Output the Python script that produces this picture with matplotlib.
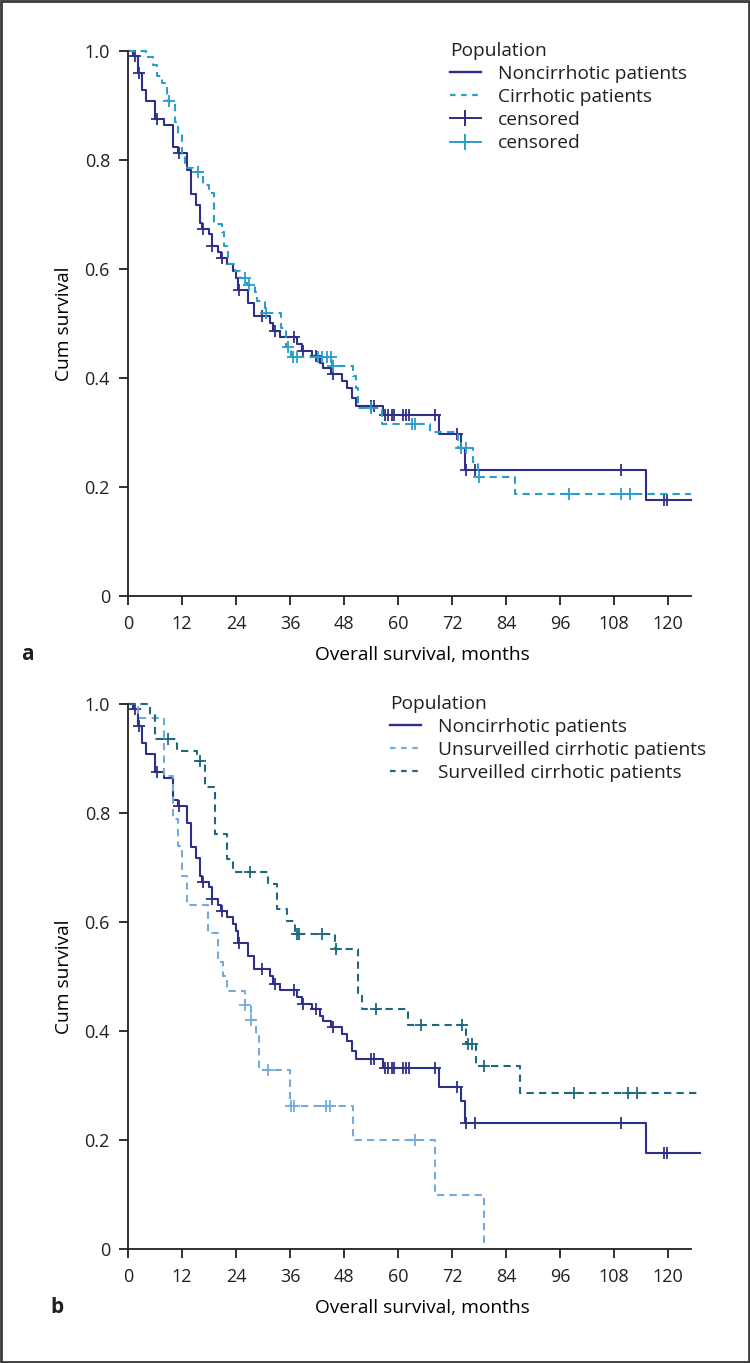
import numpy as np
import matplotlib
matplotlib.use('Agg')
import matplotlib.pyplot as plt
from matplotlib.lines import Line2D
from matplotlib.patches import Rectangle

plt.rcParams['font.family'] = ['Open Sans', 'DejaVu Sans']
plt.rcParams['text.color'] = '#231f20'

## Kaplan-Meier step data (months, cum survival after step)
non_t = [0, 1.2, 2.3, 3.2, 4.1, 6.0, 8.1, 10.1, 11.0, 13.2, 14.0, 15.1, 16.0, 16.4, 18.1, 18.6,
         20.1, 20.7, 21.9, 23.4, 24.0, 24.5, 26.7, 27.9, 31.6, 32.3, 33.8, 37.6, 38.6, 40.8,
         42.7, 43.4, 45.0, 47.5, 48.6, 49.7, 50.7, 56.6, 69.2, 73.9, 74.9, 115.2]
non_s = [1.0, 0.991, 0.959, 0.928, 0.908, 0.875, 0.865, 0.824, 0.813, 0.781, 0.738, 0.717, 0.685,
         0.673, 0.664, 0.642, 0.632, 0.620, 0.609, 0.596, 0.584, 0.561, 0.538, 0.514, 0.501,
         0.487, 0.475, 0.462, 0.450, 0.440, 0.428, 0.419, 0.408, 0.394, 0.382, 0.364, 0.349,
         0.332, 0.298, 0.272, 0.232, 0.176]
non_cens = [1.5, 2.4, 6.4, 11.4, 16.7, 18.7, 20.8, 24.6, 29.8, 32.6, 36.8, 38.9, 41.7, 45.6,
            53.9, 54.6, 57.1, 57.8, 58.6, 59.2, 61.0, 61.7, 62.5, 68.2, 73.0, 75.0, 77.1,
            109.6, 119.0, 119.8]

cir_t = [0, 4.1, 5.6, 6.4, 7.5, 8.6, 10.4, 11.2, 11.9, 12.7, 14.5, 16.7, 17.9, 19.0, 20.8, 21.3,
         22.3, 23.8, 24.9, 26.5, 28.2, 28.6, 30.4, 34.1, 35.2, 36.2, 45.3, 50.1, 50.7, 51.2,
         56.5, 67.1, 73.3, 76.7, 77.8, 86.0]
cir_s = [1.0, 0.988, 0.975, 0.954, 0.942, 0.908, 0.869, 0.847, 0.810, 0.786, 0.777, 0.754, 0.740,
         0.682, 0.667, 0.642, 0.609, 0.596, 0.584, 0.571, 0.557, 0.541, 0.520, 0.492, 0.456,
         0.438, 0.422, 0.404, 0.382, 0.345, 0.315, 0.300, 0.272, 0.246, 0.219, 0.188]
cir_cens = [9.0, 15.6, 26.0, 26.9, 30.6, 35.5, 36.7, 37.5, 42.2, 43.2, 44.2, 45.0, 45.6, 54.1,
            63.0, 63.8, 74.0, 75.1, 78.1, 97.9, 109.6, 111.6]

uns_t = [0, 2.3, 7.9, 10.1, 11.2, 12.1, 13.2, 17.8, 20.0, 21.2, 21.9, 26.0, 27.3, 28.4, 29.2,
         36.1, 50.1, 68.2, 79.1]
uns_s = [1.0, 0.974, 0.868, 0.788, 0.739, 0.685, 0.632, 0.579, 0.526, 0.500, 0.473, 0.448,
         0.420, 0.390, 0.328, 0.263, 0.200, 0.099, 0.0]
uns_cens = [26.1, 27.4, 31.2, 36.2, 36.9, 44.1, 44.9, 63.8]

sur_t = [0, 4.9, 6.0, 10.9, 15.3, 17.1, 19.3, 21.9, 23.4, 31.2, 33.0, 35.3, 37.1, 46.1, 51.2,
         51.9, 62.3, 75.1, 77.3, 87.1]
sur_s = [1.0, 0.979, 0.936, 0.914, 0.896, 0.847, 0.761, 0.715, 0.691, 0.669, 0.624, 0.601,
         0.577, 0.550, 0.468, 0.440, 0.411, 0.377, 0.335, 0.287]
sur_cens = [8.9, 16.0, 27.1, 37.5, 38.1, 43.0, 46.3, 55.1, 65.0, 74.2, 75.6, 76.4, 79.0,
            99.1, 111.2, 113.0]

x_ticks = list(range(0, 121, 12))
y_ticks = [0, 0.2, 0.4, 0.6, 0.8, 1.0]
y_ticklabels = ['0', '0.2', '0.4', '0.6', '0.8', '1.0']

navy = '#2e2f88'
cyan = '#2a9dc8'
light = '#74abdd'
teal = '#1d6a80'
ink = '#231f20'
fs = 13.8


def km(ax, t, s, cens, t_end, color, dashes=None, lw=1.5):
    tt = np.append(t, t_end)
    ss = np.append(s, s[-1])
    line, = ax.step(tt, ss, where='post', color=color, lw=lw, clip_on=False)
    if dashes:
        line.set_dashes(dashes)
    idx = np.searchsorted(t, cens, side='right') - 1
    ax.plot(cens, np.asarray(s)[idx], ls='none', marker='+', ms=8.5, mew=1.3,
            color=color, clip_on=False)


def style(ax):
    ax.set_xlim(0, 125)
    ax.set_ylim(0, 1.0)
    ax.spines['top'].set_visible(False)
    ax.spines['right'].set_visible(False)
    for sp in ('left', 'bottom'):
        ax.spines[sp].set_linewidth(1.3)
        ax.spines[sp].set_color(ink)
    ax.set_xticks(x_ticks)
    ax.set_yticks(y_ticks)
    ax.set_yticklabels(y_ticklabels)
    ax.tick_params(direction='out', length=6.5, width=1.3, labelsize=13, colors=ink)
    ax.tick_params(axis='x', pad=7)
    ax.tick_params(axis='y', pad=6.5)
    ax.set_xlabel('Overall survival, months', fontsize=fs, va='baseline')
    ax.set_ylabel('Cum survival', fontsize=fs)
    ax.xaxis.set_label_coords(0.524, -64 / 545)
    ax.yaxis.set_label_coords(-0.097, 0.5)


fig = plt.figure(figsize=(7.5, 13.63), dpi=100)
ax0 = fig.add_axes([0.1707, 1 - 596 / 1363, 0.75, 0.3999])
ax1 = fig.add_axes([0.1707, 1 - 1249 / 1363, 0.75, 0.3999])

leg_kw = dict(title='Population', loc='upper left', frameon=False, borderpad=0,
              borderaxespad=0, handlelength=1.6, handletextpad=0.9, labelspacing=0.27,
              alignment='left', fontsize=fs, title_fontsize=fs)

## Panel a
km(ax0, non_t, non_s, non_cens, 125, navy)
km(ax0, cir_t, cir_s, cir_cens, 125, cyan, dashes=(3.5, 2.5), lw=1.5)
style(ax0)
h0 = [Line2D([], [], color=navy, lw=1.7),
      Line2D([], [], color=cyan, lw=1.6, dashes=(2.5, 2.5)),
      Line2D([], [], color=navy, lw=1.4, marker='+', ms=11, mew=1.4),
      Line2D([], [], color=cyan, lw=1.4, marker='+', ms=11, mew=1.4)]
ax0.legend(h0, ['Noncirrhotic patients', 'Cirrhotic patients', 'censored', 'censored'],
           bbox_to_anchor=(0.5724, 1.017), **leg_kw)

## Panel b
km(ax1, non_t, non_s, non_cens, 127, navy)
km(ax1, uns_t, uns_s, uns_cens, 79.1, light, dashes=(3.5, 2.5), lw=1.5)
km(ax1, sur_t, sur_s, sur_cens, 127, teal, dashes=(3.5, 2.5), lw=1.5)
style(ax1)
h1 = [Line2D([], [], color=navy, lw=1.7),
      Line2D([], [], color=light, lw=1.6, dashes=(2.5, 2.5)),
      Line2D([], [], color=teal, lw=1.6, dashes=(2.5, 2.5))]
ax1.legend(h1, ['Noncirrhotic patients', 'Unsurveilled cirrhotic patients',
                'Surveilled cirrhotic patients'],
           bbox_to_anchor=(0.466, 1.017), **leg_kw)

## Panel letters and frame
fig.text(27 / 750, 1 - 660 / 1363, 'a', fontsize=15, fontweight='bold', ha='center', va='baseline')
fig.text(57 / 750, 1 - 1313 / 1363, 'b', fontsize=15, fontweight='bold', ha='center', va='baseline')
fig.add_artist(Rectangle((0.001, 0.001), 0.998, 0.998, transform=fig.transFigure,
                         fill=False, lw=2, ec='#3a3a3a'))

fig.savefig('out.png', dpi=100)
